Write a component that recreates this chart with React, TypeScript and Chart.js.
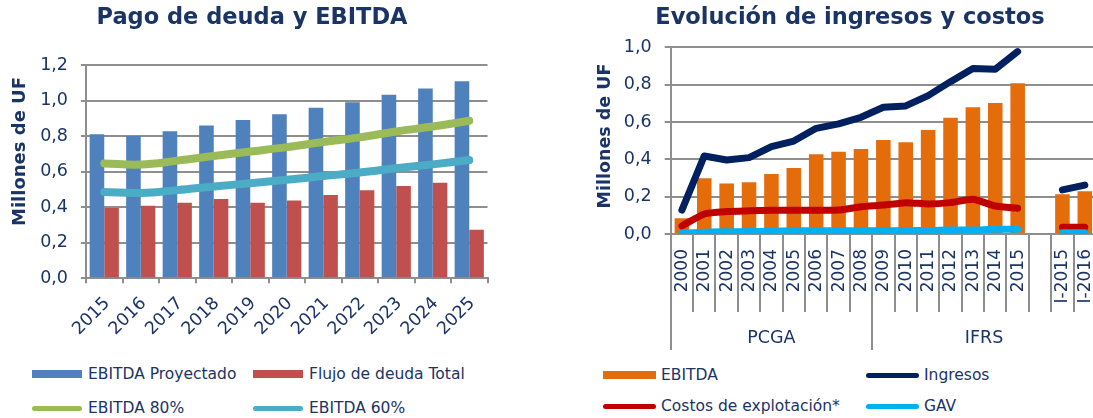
import React, { useEffect, useRef } from 'react';
import { Chart, registerables } from 'chart.js';

Chart.register(...registerables);

const FONT = '"DejaVu Sans", Verdana, sans-serif';
const TEXT = '#1B3466';
const GRID = '#8E8E8E';

// ---- Left chart: Pago de deuda y EBITDA ----
const debtYears = ['2015', '2016', '2017', '2018', '2019', '2020', '2021', '2022', '2023', '2024', '2025'];
const ebitdaProyectado = [0.81, 0.8, 0.827, 0.86, 0.891, 0.923, 0.959, 0.991, 1.032, 1.068, 1.108];
const flujoDeudaTotal = [0.395, 0.408, 0.425, 0.446, 0.425, 0.437, 0.468, 0.496, 0.519, 0.538, 0.273];
const ebitda80 = [0.646, 0.64, 0.662, 0.688, 0.713, 0.738, 0.767, 0.793, 0.826, 0.854, 0.886];
const ebitda60 = [0.485, 0.48, 0.496, 0.516, 0.535, 0.554, 0.575, 0.595, 0.619, 0.641, 0.665];
const debtAxisMax = 1.2;
const debtAxisStep = 0.2;

// ---- Right chart: Evolución de ingresos y costos ----
const periods = ['2000', '2001', '2002', '2003', '2004', '2005', '2006', '2007', '2008', '2009', '2010', '2011', '2012', '2013', '2014', '2015', '', 'I-2015', 'I-2016'];
const ebitdaHist = [0.084, 0.298, 0.27, 0.277, 0.321, 0.354, 0.427, 0.441, 0.455, 0.503, 0.491, 0.557, 0.623, 0.679, 0.702, 0.807, null, 0.213, 0.229];
const ingresos = [0.128, 0.418, 0.396, 0.409, 0.468, 0.498, 0.566, 0.59, 0.625, 0.679, 0.686, 0.741, 0.816, 0.887, 0.882, 0.977, null, 0.236, 0.262];
const costosExplotacion = [0.043, 0.107, 0.12, 0.124, 0.127, 0.127, 0.127, 0.128, 0.146, 0.155, 0.168, 0.161, 0.168, 0.186, 0.15, 0.138, null, 0.036, 0.036];
const gav = [0.004, 0.01, 0.012, 0.013, 0.015, 0.017, 0.018, 0.018, 0.018, 0.018, 0.018, 0.019, 0.021, 0.021, 0.025, 0.025, null, 0.007, 0.007];
const groupLabels = ['PCGA', 'IFRS'];
const groupStarts = [0, 9];
const histAxisMax = 1.0;
const histAxisStep = 0.2;

const fmt = (v: number | string) => Number(v).toFixed(1).replace('.', ',');

const yTitlePlugin = (id: string, text: string, x: number, y: number, size: number) => ({
  id,
  afterDraw(chart: any) {
    const ctx = chart.ctx;
    ctx.save();
    ctx.translate(x, y);
    ctx.rotate(-Math.PI / 2);
    ctx.font = `bold ${size}px ${FONT}`;
    ctx.fillStyle = TEXT;
    ctx.textAlign = 'center';
    ctx.textBaseline = 'middle';
    ctx.fillText(text, 0, 0);
    ctx.restore();
  },
});

// Multi-level category axis: vertical year labels, separators and group labels
const groupAxisPlugin = {
  id: 'groupAxis',
  afterDraw(chart: any) {
    const xs = chart.scales.x;
    const area = chart.chartArea;
    const ctx = chart.ctx;
    const labels: string[] = chart.data.labels;
    const n = labels.length;
    const half = (xs.getPixelForValue(1) - xs.getPixelForValue(0)) / 2;
    ctx.save();
    // year labels
    ctx.font = `17px ${FONT}`;
    ctx.fillStyle = TEXT;
    ctx.textAlign = 'right';
    ctx.textBaseline = 'middle';
    labels.forEach((lab, i) => {
      if (!lab) return;
      ctx.save();
      ctx.translate(xs.getPixelForValue(i) + 0.5, area.bottom + 15);
      ctx.rotate(-Math.PI / 2);
      ctx.fillText(lab, 0, 0);
      ctx.restore();
    });
    // separators
    ctx.strokeStyle = GRID;
    ctx.lineWidth = 2;
    const bounds: number[] = [];
    for (let i = 0; i <= n; i++) bounds.push(xs.getPixelForValue(i) - half);
    bounds.forEach((bx, i) => {
      const long = groupStarts.includes(i) || i === n;
      ctx.beginPath();
      ctx.moveTo(Math.round(bx), area.bottom);
      ctx.lineTo(Math.round(bx), area.bottom + (long ? 116 : 78));
      ctx.stroke();
    });
    // group labels
    ctx.font = `17.5px ${FONT}`;
    ctx.textAlign = 'center';
    groupLabels.forEach((lab, g) => {
      const from = groupStarts[g];
      const to = g + 1 < groupStarts.length ? groupStarts[g + 1] : n;
      ctx.fillText(lab, (bounds[from] + bounds[to]) / 2, area.bottom + 104);
    });
    ctx.restore();
  },
};

type LegendItem = { label: string; color: string; kind: 'box' | 'line' };

const leftLegend: LegendItem[] = [
  { label: 'EBITDA Proyectado', color: '#4F81BD', kind: 'box' },
  { label: 'Flujo de deuda Total', color: '#C0504D', kind: 'box' },
  { label: 'EBITDA 80%', color: '#9BBB59', kind: 'line' },
  { label: 'EBITDA 60%', color: '#4BACC6', kind: 'line' },
];
const rightLegend: LegendItem[] = [
  { label: 'EBITDA', color: '#E46C0A', kind: 'box' },
  { label: 'Ingresos', color: '#002060', kind: 'line' },
  { label: 'Costos de explotación*', color: '#C00000', kind: 'line' },
  { label: 'GAV', color: '#00B0F0', kind: 'line' },
];

function Legend({ items, left, top, colW, rowH, swW, gap }: { items: LegendItem[]; left: number; top: number; colW: number; rowH: number; swW: number; gap: number }) {
  return (
    <>
      {items.map((it, i) => {
        const col = i % 2;
        const row = Math.floor(i / 2);
        return (
          <div
            key={it.label}
            style={{
              position: 'absolute',
              left: left + col * colW,
              top: top + row * rowH - 10,
              height: 20,
              display: 'flex',
              alignItems: 'center',
              whiteSpace: 'nowrap',
              fontFamily: FONT,
              fontSize: 15.5,
              color: TEXT,
            }}
          >
            <div
              style={{
                width: swW,
                height: it.kind === 'box' ? 8 : 5,
                background: it.color,
                borderRadius: it.kind === 'box' ? 0 : 3,
                marginRight: gap,
              }}
            />
            <span>{it.label}</span>
          </div>
        );
      })}
    </>
  );
}

export default function App() {
  const leftRef = useRef<HTMLCanvasElement>(null);
  const rightRef = useRef<HTMLCanvasElement>(null);

  useEffect(() => {
    document.body.style.margin = '0';
    const tickFont = { family: FONT, size: 17.5 };

    const c1 = new Chart(leftRef.current as HTMLCanvasElement, {
      type: 'bar',
      data: {
        labels: debtYears,
        datasets: [
          { type: 'line', label: 'EBITDA 60%', data: ebitda60, borderColor: '#4BACC6', backgroundColor: '#4BACC6', borderWidth: 8, tension: 0.4, pointRadius: 0, borderCapStyle: 'round', borderJoinStyle: 'round', order: 0 } as any,
          { type: 'line', label: 'EBITDA 80%', data: ebitda80, borderColor: '#9BBB59', backgroundColor: '#9BBB59', borderWidth: 8, tension: 0.4, pointRadius: 0, borderCapStyle: 'round', borderJoinStyle: 'round', order: 1 } as any,
          { label: 'EBITDA Proyectado', data: ebitdaProyectado, backgroundColor: '#4F81BD', categoryPercentage: 0.8, barPercentage: 1.0, order: 2 },
          { label: 'Flujo de deuda Total', data: flujoDeudaTotal, backgroundColor: '#C0504D', categoryPercentage: 0.8, barPercentage: 1.0, order: 3 },
        ],
      },
      options: {
        animation: false,
        responsive: true,
        maintainAspectRatio: false,
        layout: { padding: { left: 16.5, right: 15.5, top: 0, bottom: 0 } },
        plugins: {
          legend: { display: false },
          tooltip: { enabled: false },
          title: {
            display: true,
            text: 'Pago de deuda y EBITDA',
            color: TEXT,
            font: { family: FONT, size: 22.5, weight: 'bold', lineHeight: 1.2 },
            padding: { top: 5, bottom: 33 },
          },
        },
        scales: {
          x: {
            grid: { display: true, drawOnChartArea: false, drawTicks: true, tickLength: 5, color: GRID, lineWidth: 2, offset: true },
            border: { color: GRID, width: 2 },
            ticks: { color: TEXT, font: tickFont, minRotation: 45, maxRotation: 45, autoSkip: false, padding: 10, labelOffset: 3 },
            afterFit: (s: any) => { s.height = 71.7; },
          },
          y: {
            min: 0,
            max: debtAxisMax,
            ticks: { stepSize: debtAxisStep, callback: (v: any) => fmt(v), color: TEXT, font: tickFont, padding: 13 },
            grid: { color: GRID, lineWidth: 2, tickLength: 5 },
            border: { color: GRID, width: 2 },
            afterFit: (s: any) => { s.width = 69.5; },
          },
        },
      } as any,
      plugins: [yTitlePlugin('yTitleLeft', 'Millones de UF', 20, 151.5, 18)],
    });

    const c2 = new Chart(rightRef.current as HTMLCanvasElement, {
      type: 'bar',
      data: {
        labels: periods,
        datasets: [
          { type: 'line', label: 'GAV', data: gav, borderColor: '#00B0F0', backgroundColor: '#00B0F0', borderWidth: 7, tension: 0.2, pointRadius: 0, borderCapStyle: 'round', borderJoinStyle: 'round', order: 0 } as any,
          { type: 'line', label: 'Costos de explotación*', data: costosExplotacion, borderColor: '#C00000', backgroundColor: '#C00000', borderWidth: 7, tension: 0.2, pointRadius: 0, borderCapStyle: 'round', borderJoinStyle: 'round', order: 1 } as any,
          { type: 'line', label: 'Ingresos', data: ingresos, borderColor: '#002060', backgroundColor: '#002060', borderWidth: 7, tension: 0, pointRadius: 0, borderCapStyle: 'round', borderJoinStyle: 'round', order: 2 } as any,
          { label: 'EBITDA', data: ebitdaHist, backgroundColor: '#E46C0A', categoryPercentage: 1.0, barPercentage: 0.65, order: 3 },
        ],
      },
      options: {
        animation: false,
        responsive: true,
        maintainAspectRatio: false,
        layout: { padding: { left: 14, right: 14, top: 0, bottom: 0 } },
        plugins: {
          legend: { display: false },
          tooltip: { enabled: false },
          title: {
            display: true,
            text: 'Evolución de ingresos y costos',
            color: TEXT,
            font: { family: FONT, size: 22.5, weight: 'bold', lineHeight: 1.2 },
            padding: { top: 5, bottom: 15.3 },
          },
        },
        scales: {
          x: {
            grid: { display: true, drawOnChartArea: false, drawTicks: false, color: GRID, lineWidth: 2 },
            border: { color: GRID, width: 2 },
            ticks: { display: false },
            afterFit: (s: any) => { s.height = 126; },
          },
          y: {
            min: 0,
            max: histAxisMax,
            ticks: { stepSize: histAxisStep, callback: (v: any) => fmt(v), color: TEXT, font: { family: FONT, size: 17.5 }, padding: 13 },
            grid: { color: GRID, lineWidth: 2, tickLength: 6 },
            border: { color: GRID, width: 2 },
            afterFit: (s: any) => { s.width = 66.7; },
          },
        },
      } as any,
      plugins: [groupAxisPlugin, yTitlePlugin('yTitleRight', 'Millones de UF', 15, 136, 17.5)],
    });

    return () => {
      c1.destroy();
      c2.destroy();
    };
  }, []);

  return (
    <div style={{ position: 'absolute', left: 0, top: 0, width: 1093, height: 418, overflow: 'hidden', background: '#fff' }}>
      <div style={{ position: 'absolute', left: 0, top: 0, width: 503, height: 350 }}>
        <canvas ref={leftRef} />
      </div>
      <div style={{ position: 'absolute', left: 590, top: 0, width: 520, height: 360 }}>
        <canvas ref={rightRef} />
      </div>
      <Legend items={leftLegend} left={32} top={374} colW={221} rowH={34} swW={50} gap={6} />
      <Legend items={rightLegend} left={603} top={375} colW={263} rowH={31} swW={53} gap={5} />
    </div>
  );
}
